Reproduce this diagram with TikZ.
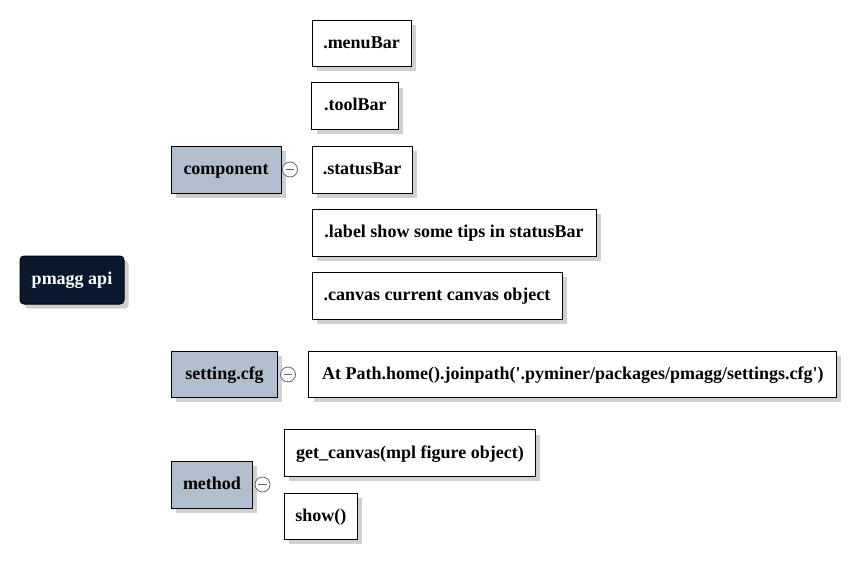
\documentclass[tikz,border=0pt]{standalone}
\usepackage{fontspec}
\setmainfont{Liberation Serif}
\usetikzlibrary{shadows}
\definecolor{rootfill}{HTML}{0A1A2E}
\definecolor{branchfill}{HTML}{B0BECE}
\definecolor{shadowgray}{HTML}{D0D0D0}
\begin{document}
\begin{tikzpicture}[x=0.75pt,y=-0.75pt,
  txt/.style={font=\fontsize{13.5}{16}\selectfont\bfseries, inner sep=0pt, text height=0.9em, text depth=0.18em},
  boxshadow/.style={copy shadow={shadow xshift=3.5pt, shadow yshift=-3.5pt, fill=shadowgray, draw=none}},
  leaf/.style={txt, draw=black, line width=0.75pt, fill=white, boxshadow},
  branch/.style={txt, draw=black, line width=0.75pt, fill=branchfill, boxshadow},
  rootbox/.style={txt, text=white, draw=black, line width=0.75pt, fill=rootfill, rounded corners=3pt, boxshadow},
  fold/.style={circle, draw=gray!80!black, line width=0.6pt, fill=white, minimum size=15*0.75pt, inner sep=0pt,
    path picture={\draw[line width=0.6pt] ([xshift=2.5pt]path picture bounding box.west) -- ([xshift=-2.5pt]path picture bounding box.east);}}
]
\useasboundingbox (0,0) rectangle (856,560);
% root
\node[rootbox, minimum width=104*0.75pt, minimum height=48*0.75pt] (root) at (72,280) {pmagg api};
% branches
\node[branch, minimum width=110*0.75pt, minimum height=47*0.75pt] (component) at (226,169.5) {component};
\node[branch, minimum width=106*0.75pt, minimum height=46*0.75pt] (setting) at (224.5,374.5) {setting.cfg};
\node[branch, minimum width=81*0.75pt, minimum height=47*0.75pt] (method) at (212,485) {method};
% fold markers
\node[fold] (f1) at (290,169.5) {};
\node[fold] (f2) at (288,374.5) {};
\node[fold] (f3) at (262.5,484.5) {};
% leaves
\node[leaf, minimum width=99*0.75pt, minimum height=46.5*0.75pt] (menubar) at (361.5,43.3) {.menuBar};
\node[leaf, minimum width=86.7*0.75pt, minimum height=46*0.75pt] (toolbar) at (355.3,106) {.toolBar};
\node[leaf, minimum width=100*0.75pt, minimum height=47*0.75pt] (statusbar) at (362,169.5) {.statusBar};
\node[leaf, minimum width=284*0.75pt, minimum height=47*0.75pt] (label) at (454,232.5) {.label show some tips in statusBar};
\node[leaf, minimum width=250*0.75pt, minimum height=47*0.75pt] (canvas) at (437,295.5) {.canvas current canvas object};
\node[leaf, minimum width=527.7*0.75pt, minimum height=46.5*0.75pt] (path) at (572.8,374.3) {At Path.home().joinpath(\textquotesingle.pyminer/packages/pmagg/settings.cfg\textquotesingle)};
\node[leaf, minimum width=251.4*0.75pt, minimum height=46.5*0.75pt] (getcanvas) at (410,453.2) {get\_canvas(mpl figure object)};
\node[leaf, minimum width=73*0.75pt, minimum height=46*0.75pt] (show) at (320.8,516.3) {show()};
\end{tikzpicture}
\end{document}
